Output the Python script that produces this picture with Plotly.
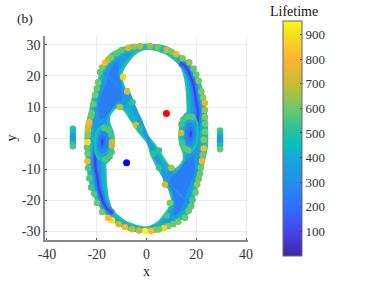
import plotly.graph_objects as go
from plotly.colors import sample_colorscale

SCALE = [[0, "#3e26a8"], [0.1, "#4842e8"], [0.21, "#3070ff"], [0.32, "#2290e8"], [0.42, "#18a8d8"],
         [0.47, "#08bfc0"], [0.52, "#20c0a5"], [0.63, "#6ec96a"], [0.73, "#c7bd30"], [0.84, "#fdb52e"],
         [0.94, "#f5de20"], [1, "#f9fb15"]]
L_MIN, L_MAX = 0, 955
TICKS = [100, 200, 300, 400, 500, 600, 700, 800, 900]

outer = [(0,30.5),(4,30.3),(8,29.7),(12,27.8),(15,25.8),(17.5,24),(20,21),(22,17.5),(23.5,13),(24.3,8),(24.8,3),(24.8,-2),(24,-6),(23,-9),(22,-13),(20.5,-16.5),(19.5,-19),(19,-22),(17,-24.5),(14,-26.5),(10,-28.7),(6,-30),(0,-30.7),(-4,-30.4),(-8,-29.7),(-12,-27.8),(-15,-25.8),(-17.5,-24),(-20,-21),(-22,-17.5),(-23.5,-13),(-24.3,-8),(-24.8,-3),(-24.8,2),(-24,6),(-23,9),(-22,13),(-20.5,16.5),(-19.5,19),(-19,22),(-17,24.5),(-15,27),(-10,29.2),(-6,30.2)]
hole_red = [(0,28.5),(4,28),(8,26.8),(11,25),(13.5,23),(15,19.5),(15.8,15),(16,11),(16,8.3),(14.5,7),(13.2,4),(12.8,1),(13.2,-2),(14.5,-5),(14.5,-7),(13,-8.8),(11,-9.8),(9,-8.5),(6.5,-5.5),(3.5,-1.8),(0,1.6),(-1.5,5.5),(-3,8),(-5,11),(-7.8,15),(-9.8,20),(-8.6,22.6),(-4.6,26.8),(-2,28)]
hole_blue = [(0,-28.5),(-4,-28),(-8,-26.8),(-11,-25),(-13.5,-23),(-15,-19.5),(-15.8,-15),(-16,-11),(-16,-8.3),(-14.5,-7),(-13.2,-4),(-12.8,-1),(-13.2,2),(-14.5,5),(-14.5,7),(-13,8.8),(-11,9.8),(-9,8.5),(-6.5,5.5),(-3.5,1.8),(0,-1.6),(1.5,-5.5),(3,-8),(5,-11),(7.8,-15),(9.8,-20),(8.6,-22.6),(4.6,-26.8),(2,-28)]

cyan_outer = [(0,29.5),(4,29.3),(8,28.7),(11.5,27),(14.5,25),(17,22.8),(19,20),(21,16.5),(22.5,12.5),(23.2,8),(23.6,3),(23.6,-2),(22.8,-6),(21.8,-9),(20.8,-13),(19.4,-16),(18.4,-19),(17.8,-21.8),(16,-23.6),(13.4,-25.5),(9.5,-27.7),(5.5,-29),(0,-29.6),(-4,-29.3),(-8,-28.7),(-11.5,-27),(-14.5,-25),(-17,-22.8),(-19,-20),(-21,-16.5),(-22.5,-12.5),(-23.2,-8),(-23.6,-3),(-23.6,2),(-22.8,6),(-21.8,9),(-20.8,13),(-19.4,16),(-18.4,19),(-17.8,21.8),(-16,23.6),(-13.4,25.5),(-9.5,27.7),(-5.5,29)]
cyan_hole_red = [(0,28.9),(4,28.5),(8,27.4),(11.5,25.5),(14,23.5),(15.7,19.8),(16.5,15),(16.8,11),(16.8,8.8),(15,7.7),(13.9,4),(13.5,1),(13.9,-2),(15.2,-5),(15.2,-7.5),(13.3,-9.6),(11,-10.6),(8.5,-9),(6,-6),(2.9,-2.3),(-0.7,1.4),(-2.2,5.2),(-3.6,7.4),(-5.7,10.6),(-8.5,14.7),(-10.5,20),(-9.3,23),(-5,27.4),(-2,28.6)]
cyan_hole_blue = [(0,-28.9),(-4,-28.5),(-8,-27.4),(-11.5,-25.5),(-14,-23.5),(-15.7,-19.8),(-16.5,-15),(-16.8,-11),(-16.8,-8.8),(-15,-7.7),(-13.9,-4),(-13.5,-1),(-13.9,2),(-15.2,5),(-15.2,7.5),(-13.3,9.6),(-11,10.6),(-8.5,9),(-6,6),(-2.9,2.3),(0.7,-1.4),(2.2,-5.2),(3.6,-7.4),(5.7,-10.6),(8.5,-14.7),(10.5,-20),(9.3,-23),(5,-27.4),(2,-28.6)]

blue_right = [(10,26.3),(13,25),(16.5,22.5),(19,19.5),(20.6,15),(21.4,10),(21.8,5),(21.2,0),(21.6,-5),(21,-9),(19.6,-13),(18,-17),(17,-20.5),(15.3,-23),(12.8,-25),(10,-26.5),(7.5,-27.3),(6,-27.3),(9.5,-24),(11,-21),(9.2,-16),(7,-12),(9,-10.6),(11,-11.3),(13.5,-10),(15.5,-7),(16.5,-3),(18,0),(18,8),(18,12),(17.6,16),(16.6,19.5),(14.8,23.8),(11.5,25.8)]
blue_left = [(-10,-26.3),(-13,-25),(-16.5,-22.5),(-19,-19.5),(-20.6,-15),(-21.4,-10),(-21.8,-5),(-21.2,0),(-21.6,5),(-21,9),(-19.6,13),(-18,17),(-17,20.5),(-15.3,23),(-12.8,25),(-10,26.5),(-7.5,27.3),(-6,27.3),(-9.5,24),(-11,21),(-9.2,16),(-7,12),(-9,10.6),(-11,11.3),(-13.5,10),(-15.5,7),(-16.5,3),(-18,0),(-18,-8),(-18,-12),(-17.6,-16),(-16.6,-19.5),(-14.8,-23.8),(-11.5,-25.8)]
fan_right = [(12,-11.5),(15,-8),(18.5,-6),(19.5,-10),(18,-14),(16,-18),(15,-21),(13,-24),(11,-25),(11,-23.5),(11.5,-21),(10.5,-18),(9.5,-15),(10,-12.5)]
fan_left = [(-12,11.5),(-15,8),(-18.5,6),(-19.5,10),(-18,14),(-16,18),(-15,21),(-13,24),(-11,25),(-11,23.5),(-11.5,21),(-10.5,18),(-9.5,15),(-10,12.5)]

diag = [(-8,16),(-6.5,13),(-3.5,7),(-1.5,3.5),(1.5,-2),(3.8,-6),(6.5,-10),(8,-16)]
ridge_right = [(8,-14),(12.5,-17.5),(17,-21)]
ridge_left = [(-8,14),(-12.5,17.5),(-17,21)]
core_right = [(13.5,24.3),(16,22.6),(18.9,17),(19.9,12),(20.6,9),(20.4,5),(19.5,2)]
core_left = [(-13.5,-24.3),(-16,-22.6),(-18.9,-17),(-19.9,-12),(-20.6,-9),(-20.4,-5),(-19.5,-2)]

isl_r = {
    490: [(17.5,7.6),(15,6.5),(13.3,3.5),(12.8,0.5),(13.5,-2.5),(15.5,-4.7),(18,-4.8),(20.5,-2),(21,1.5),(20.8,5),(19.5,7)],
    400: [(17.5,6.3),(15.6,5.5),(14.3,3),(14,0.5),(14.6,-2),(16,-3.6),(18,-3.6),(19.8,-1.5),(20.2,1.5),(20,4.5),(19,6)],
    280: [(17.6,5),(16.2,4.2),(15.4,2.5),(15.2,0.5),(15.8,-1.3),(16.8,-2.4),(18,-2.4),(19.2,-1),(19.6,1.5),(19.3,3.5),(18.6,4.6)],
    200: [(17.6,3.6),(16.9,3),(16.4,1.8),(16.4,0.5),(16.9,-0.6),(17.6,-1),(18.4,-0.6),(18.8,0.5),(18.9,1.8),(18.6,3)],
    80:  [(17.7,2.5),(17.3,1.5),(17.3,0.6),(17.8,0.2),(18.2,0.8),(18.2,1.8)],
}
isl_l = {
    490: [(-17.5,-7.6),(-15,-6.5),(-13.3,-3.5),(-12.8,-0.5),(-13.5,2.5),(-15.5,4),(-18,4),(-20.5,2),(-21,-1.5),(-20.8,-5),(-19.5,-7)],
    400: [(-17.5,-6.3),(-15.6,-5.5),(-14.3,-3),(-14,-0.5),(-14.6,2),(-16,3),(-18,3),(-19.8,1.5),(-20.2,-1.5),(-20,-4.5),(-19,-6)],
    280: [(-17.6,-5),(-16.2,-4.2),(-15.4,-2.5),(-15.2,-0.5),(-15.8,1.3),(-16.8,2),(-18,2),(-19.2,1),(-19.6,-1.5),(-19.3,-3.5),(-18.6,-4.6)],
    200: [(-17.6,-3.6),(-16.9,-3),(-16.4,-1.8),(-16.4,-0.5),(-16.9,0.6),(-17.6,1),(-18.4,0.6),(-18.8,-0.5),(-18.9,-1.8),(-18.6,-3)],
    80:  [(-17.7,-2.5),(-17.3,-1.5),(-17.3,-0.6),(-17.8,-0.2),(-18.2,-0.8),(-18.2,-1.8)],
}

# x, y, lifetime of the individual visible points
dots = [
 (-7.4,29,720),(-5,29.4,640),(-2.6,29.7,680),(1.4,29.7,640),(4.5,29.2,610),(8,28.4,690),(10,27.8,620),(12,27,770),(14.5,25.7,620),(17.2,24.4,640),(19,22.4,590),(20,20.5,590),
 (21,18.5,620),(22,15,620),(22.8,13,640),(23.5,11.3,750),(23.5,9,650),(23.5,6.8,620),(23.6,4.5,600),(23.5,2,600),(23,-0.6,640),(23,-3.4,800),(22.6,-5.5,610),(22.3,-7.4,790),(21.8,-9.5,600),(21.5,-11.5,590),(21,-13.2,600),(20.4,-15,640),(19.7,-17.6,600),(18.5,-20,560),(18,-22,580),(17,-23.5,590),(15.5,-25.8,600),(12.8,-27,620),(10.8,-27.8,600),(8.7,-28.5,620),(7,-29,860),(5,-29.5,620),(3.4,-29.7,620),(1.8,-30,810),
 (-0.6,-30,940),(-3,-29.8,680),(-5.8,-29.4,690),(-8.6,-28.8,790),(-11.2,-27.8,720),(-13.9,-26.5,900),(-15.4,-25.8,800),(-17.9,-23.9,620),(-19.9,-21,590),(-21,-18,560),(-22.3,-16,550),(-23,-13,570),(-23.5,-9.7,560),(-23.8,-7.5,780),(-23.7,-5,600),(-23.9,-3,590),(-23.7,-1.3,900),(-23.6,1,640),(-23.5,2.6,700),(-23.3,4,710),(-23,5.2,800),(-22.3,7,590),(-22,8,590),(-21.4,11,600),(-20.7,13.9,600),(-20,16,590),(-19.5,18,600),(-18.7,21.3,580),(-17.8,22.8,620),(-16.7,24.3,820),(-15.5,25.2,700),(-14.3,26,640),(-12,27.4,580),(-10,28.4,590),
 # island rims
 (13.9,1.6,720),(14,4.5,540),(14.8,6,540),(16.5,6.9,570),(18.5,6.8,550),(14.2,-1.5,540),(15.2,-3.4,570),(16.8,-4,580),
 (-13.9,-1.3,700),(-13.9,-2.5,700),(-14,-4.5,540),(-14.8,-6,560),(-16.5,-6.9,570),(-14.2,1,540),(-15.2,2.7,570),(-17,3.3,560),
 # diagonal and hole edges
 (-9.4,19.7,870),(-7.8,15,720),(-5.6,11.5,520),(-10.7,10,680),(-4.2,4.2,720),(-2.5,3.2,490),
 (2.8,-5,510),(5,-9.5,520),(7.4,-15,730),(9.4,-21,620),(8.2,-25,540),(10,-9.6,660),(5,-4,510),
]

strip_left = [(-29.6,3.0,500),(-29.6,1.8,470),(-29.6,0.6,360),(-29.6,-0.6,340),(-29.6,-1.7,470),(-29.6,-2.7,560)]
strip_right = [(29.6,2.4,540),(29.6,1.2,480),(29.6,0,370),(29.6,-1.2,340),(29.6,-2.3,460),(29.6,-3.6,580)]

red_point = (8, 7.9)
blue_point = (-8, -8)


def col(v):
    return sample_colorscale(SCALE, (v - L_MIN) / (L_MAX - L_MIN))[0]


fig = go.Figure()


def region(paths, life):
    xs, ys = [], []
    for p in paths:
        xs += [a for a, _ in p] + [p[0][0], None]
        ys += [b for _, b in p] + [p[0][1], None]
    fig.add_trace(go.Scatter(x=xs, y=ys, mode="lines", fill="toself", fillcolor=col(life),
                             line=dict(width=0, color=col(life), shape="spline", smoothing=0.7),
                             hoverinfo="skip", showlegend=False))


def stroke(p, life, w):
    fig.add_trace(go.Scatter(x=[a for a, _ in p], y=[b for _, b in p], mode="lines",
                             line=dict(width=w, color=col(life), shape="spline"),
                             hoverinfo="skip", showlegend=False))


region([outer, hole_red[::-1], hole_blue[::-1]], 510)
region([cyan_outer, cyan_hole_red[::-1], cyan_hole_blue[::-1]], 425)
stroke(diag, 340, 4)
region([blue_left], 340)
region([blue_right], 340)
for p in (fan_right, fan_left):
    region([p], 245)
for p in (ridge_right, ridge_left):
    stroke(p, 300, 2.5)
for p in (core_right, core_left):
    stroke(p, 280, 7)
    stroke(p, 190, 4)
    stroke(p, 90, 2)
for isl in (isl_r, isl_l):
    for life, p in isl.items():
        region([p], life)

PW, PH = 203, 204
all_dots = dots + strip_left + strip_right
fig.add_trace(go.Scatter(
    x=[d[0] for d in all_dots], y=[d[1] for d in all_dots], mode="markers",
    marker=dict(size=6.5, color=[d[2] for d in all_dots], colorscale=SCALE, cmin=L_MIN, cmax=L_MAX, line=dict(width=0),
                colorbar=dict(xref="paper", yref="paper", x=(283-45)/PW, xanchor="left", xpad=0, ypad=0,
                              y=(240-256)/PH, yanchor="bottom", len=235/PH, lenmode="fraction",
                              thickness=19, thicknessmode="pixels", outlinecolor="#666", outlinewidth=1,
                              tickvals=TICKS, ticks="inside", ticklen=2, tickcolor="#444",
                              tickfont=dict(family="Liberation Serif", size=13, color="#333"))),
    hoverinfo="skip", showlegend=False))
fig.add_trace(go.Scatter(x=[red_point[0]], y=[red_point[1]], mode="markers", marker=dict(size=7, color="#ff0000"),
                         hoverinfo="skip", showlegend=False))
fig.add_trace(go.Scatter(x=[blue_point[0]], y=[blue_point[1]], mode="markers", marker=dict(size=7, color="#0000ff"),
                         hoverinfo="skip", showlegend=False))

axis_font = dict(family="Liberation Serif", size=14, color="#333")
common = dict(showgrid=True, gridcolor="#ececec", gridwidth=1, zeroline=False, showline=True, linecolor="#888",
              linewidth=1.5, ticks="inside", ticklen=2, tickcolor="#555", tickfont=axis_font)
fig.update_layout(
    width=374, height=292, autosize=False, paper_bgcolor="white", plot_bgcolor="white",
    margin=dict(l=45, r=126, t=36, b=52, autoexpand=False),
    xaxis=dict(range=[-40.8, 40.8], tickvals=[-40, -20, 0, 20, 40], ticktext=["-40", "-20", "0", "20", "40"],
               title=dict(text="x", standoff=6, font=dict(family="Liberation Serif", size=14, color="#222")), **common),
    yaxis=dict(range=[-32.9, 32.9], tickvals=[-30, -20, -10, 0, 10, 20, 30], ticktext=["-30", "-20", "-10", "0", "10", "20", "30"],
               title=dict(text="y", standoff=2, font=dict(family="Liberation Serif", size=14, color="#222")), **common),
    annotations=[
        dict(text="(b)", xref="paper", yref="paper", x=(15-45)/PW, y=1+(36-18)/PH, xanchor="left", yanchor="middle",
             showarrow=False, font=dict(family="Liberation Serif", size=13.5, color="#222")),
        dict(text="Lifetime", xref="paper", yref="paper", x=(294-45)/PW, y=1+(36-12)/PH, xanchor="center", yanchor="middle",
             showarrow=False, font=dict(family="Liberation Serif", size=14, color="#111")),
    ],
)
fig.write_html("out.html", config={"displayModeBar": False}, post_script="document.body.style.margin='0';")
